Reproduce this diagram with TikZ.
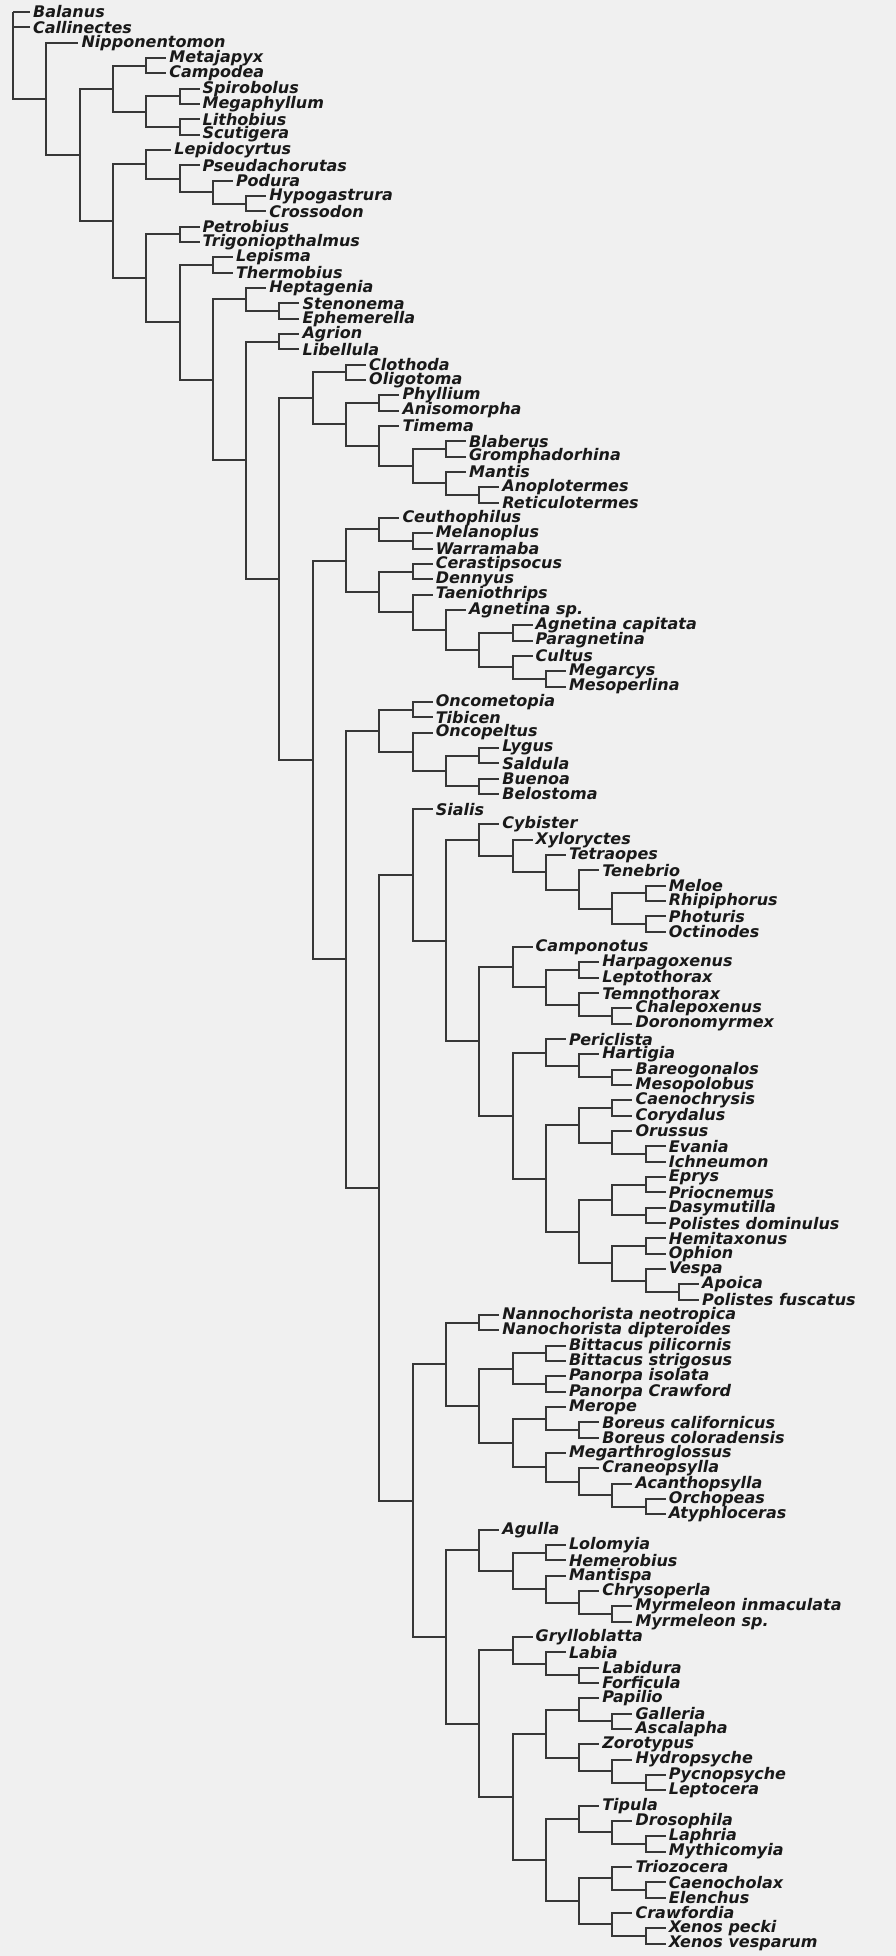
\documentclass[tikz,border=0pt]{standalone}
\usepackage{fontspec}
\newfontfamily\taxfont{DejaVu Sans}
\usetikzlibrary{calc}

\definecolor{pagebg}{RGB}{240,240,240}
\definecolor{ink}{RGB}{55,55,55}

\tikzset{
  taxon/.style={anchor=west, inner xsep=3pt, inner ysep=1pt,
    font=\taxfont\bfseries\itshape\fontsize{16}{16}\selectfont, text=black!90},
  branch/.style={draw=ink, line width=2pt},
}

% leaf: [stub] name, row, depth of parent, text
\newcommand\taxon[5][20]{%
  \node[taxon] (#2) at ({13+33.3*#4+#1},{12+(#3-1)*15.33}) {#5};}
% internal node: name, depth, first child, last child
\newcommand\clade[4]{%
  \coordinate (#1-mid) at ($(#3)!.5!(#4)$);
  \coordinate (#1-x) at ({13+33.3*#2},0);
  \coordinate (#1) at (#1-x |- #1-mid);
  \draw[branch] (#1) |- (#3) (#1) |- (#4);}

\begin{document}
\begin{tikzpicture}[x=1pt, y=-1pt]

\fill[pagebg] (0,0) rectangle (896,1956);
\useasboundingbox (0,0) rectangle (896,1956);

% Taxa
\taxon[17]{balanus}{1}{0}{Balanus}
\taxon[17]{callinectes}{2}{0}{Callinectes}
\taxon[32]{nipponentomon}{3}{1}{Nipponentomon}
\taxon{metajapyx}{4}{4}{Metajapyx}
\taxon{campodea}{5}{4}{Campodea}
\taxon{spirobolus}{6}{5}{Spirobolus}
\taxon{megaphyllum}{7}{5}{Megaphyllum}
\taxon{lithobius}{8}{5}{Lithobius}
\taxon{scutigera}{9}{5}{Scutigera}
\taxon[25]{lepidocyrtus}{10}{4}{Lepidocyrtus}
\taxon{pseudachorutas}{11}{5}{Pseudachorutas}
\taxon{podura}{12}{6}{Podura}
\taxon{hypogastrura}{13}{7}{Hypogastrura}
\taxon{crossodon}{14}{7}{Crossodon}
\taxon{petrobius}{15}{5}{Petrobius}
\taxon{trigoniopthalmus}{16}{5}{Trigoniopthalmus}
\taxon{lepisma}{17}{6}{Lepisma}
\taxon{thermobius}{18}{6}{Thermobius}
\taxon{heptagenia}{19}{7}{Heptagenia}
\taxon{stenonema}{20}{8}{Stenonema}
\taxon{ephemerella}{21}{8}{Ephemerella}
\taxon{agrion}{22}{8}{Agrion}
\taxon{libellula}{23}{8}{Libellula}
\taxon{clothoda}{24}{10}{Clothoda}
\taxon{oligotoma}{25}{10}{Oligotoma}
\taxon{phyllium}{26}{11}{Phyllium}
\taxon{anisomorpha}{27}{11}{Anisomorpha}
\taxon{timema}{28}{11}{Timema}
\taxon{blaberus}{29}{13}{Blaberus}
\taxon{gromphadorhina}{30}{13}{Gromphadorhina}
\taxon{mantis}{31}{13}{Mantis}
\taxon{anoplotermes}{32}{14}{Anoplotermes}
\taxon{reticulotermes}{33}{14}{Reticulotermes}
\taxon{ceuthophilus}{34}{11}{Ceuthophilus}
\taxon{melanoplus}{35}{12}{Melanoplus}
\taxon{warramaba}{36}{12}{Warramaba}
\taxon{cerastipsocus}{37}{12}{Cerastipsocus}
\taxon{dennyus}{38}{12}{Dennyus}
\taxon{taeniothrips}{39}{12}{Taeniothrips}
\taxon{agnetinasp}{40}{13}{Agnetina sp.}
\taxon{agnetinacap}{41}{15}{Agnetina capitata}
\taxon{paragnetina}{42}{15}{Paragnetina}
\taxon{cultus}{43}{15}{Cultus}
\taxon{megarcys}{44}{16}{Megarcys}
\taxon{mesoperlina}{45}{16}{Mesoperlina}
\taxon{oncometopia}{46}{12}{Oncometopia}
\taxon{tibicen}{47}{12}{Tibicen}
\taxon{oncopeltus}{48}{12}{Oncopeltus}
\taxon{lygus}{49}{14}{Lygus}
\taxon{saldula}{50}{14}{Saldula}
\taxon{buenoa}{51}{14}{Buenoa}
\taxon{belostoma}{52}{14}{Belostoma}
\taxon{sialis}{53}{12}{Sialis}
\taxon{cybister}{54}{14}{Cybister}
\taxon{xyloryctes}{55}{15}{Xyloryctes}
\taxon{tetraopes}{56}{16}{Tetraopes}
\taxon{tenebrio}{57}{17}{Tenebrio}
\taxon{meloe}{58}{19}{Meloe}
\taxon{rhipiphorus}{59}{19}{Rhipiphorus}
\taxon{photuris}{60}{19}{Photuris}
\taxon{octinodes}{61}{19}{Octinodes}
\taxon{camponotus}{62}{15}{Camponotus}
\taxon{harpagoxenus}{63}{17}{Harpagoxenus}
\taxon{leptothorax}{64}{17}{Leptothorax}
\taxon{temnothorax}{65}{17}{Temnothorax}
\taxon{chalepoxenus}{66}{18}{Chalepoxenus}
\taxon{doronomyrmex}{67}{18}{Doronomyrmex}
\taxon{periclista}{68}{16}{Periclista}
\taxon{hartigia}{69}{17}{Hartigia}
\taxon{bareogonalos}{70}{18}{Bareogonalos}
\taxon{mesopolobus}{71}{18}{Mesopolobus}
\taxon{caenochrysis}{72}{18}{Caenochrysis}
\taxon{corydalus}{73}{18}{Corydalus}
\taxon{orussus}{74}{18}{Orussus}
\taxon{evania}{75}{19}{Evania}
\taxon{ichneumon}{76}{19}{Ichneumon}
\taxon{eprys}{77}{19}{Eprys}
\taxon{priocnemus}{78}{19}{Priocnemus}
\taxon{dasymutilla}{79}{19}{Dasymutilla}
\taxon{polistesdom}{80}{19}{Polistes dominulus}
\taxon{hemitaxonus}{81}{19}{Hemitaxonus}
\taxon{ophion}{82}{19}{Ophion}
\taxon{vespa}{83}{19}{Vespa}
\taxon{apoica}{84}{20}{Apoica}
\taxon{polistesfus}{85}{20}{Polistes fuscatus}
\taxon{nannoneo}{86}{14}{Nannochorista neotropica}
\taxon{nannodip}{87}{14}{Nanochorista dipteroides}
\taxon{bittacuspil}{88}{16}{Bittacus pilicornis}
\taxon{bittacusstr}{89}{16}{Bittacus strigosus}
\taxon{panorpaiso}{90}{16}{Panorpa isolata}
\taxon{panorpacra}{91}{16}{Panorpa Crawford}
\taxon{merope}{92}{16}{Merope}
\taxon{boreuscal}{93}{17}{Boreus californicus}
\taxon{boreuscol}{94}{17}{Boreus coloradensis}
\taxon{megarthro}{95}{16}{Megarthroglossus}
\taxon{craneopsylla}{96}{17}{Craneopsylla}
\taxon{acanthopsylla}{97}{18}{Acanthopsylla}
\taxon{orchopeas}{98}{19}{Orchopeas}
\taxon{atyphloceras}{99}{19}{Atyphloceras}
\taxon{agulla}{100}{14}{Agulla}
\taxon{lolomyia}{101}{16}{Lolomyia}
\taxon{hemerobius}{102}{16}{Hemerobius}
\taxon{mantispa}{103}{16}{Mantispa}
\taxon{chrysoperla}{104}{17}{Chrysoperla}
\taxon{myrmeleonin}{105}{18}{Myrmeleon inmaculata}
\taxon{myrmeleonsp}{106}{18}{Myrmeleon sp.}
\taxon{grylloblatta}{107}{15}{Grylloblatta}
\taxon{labia}{108}{16}{Labia}
\taxon{labidura}{109}{17}{Labidura}
\taxon{forficula}{110}{17}{Forficula}
\taxon{papilio}{111}{17}{Papilio}
\taxon{galleria}{112}{18}{Galleria}
\taxon{ascalapha}{113}{18}{Ascalapha}
\taxon{zorotypus}{114}{17}{Zorotypus}
\taxon{hydropsyche}{115}{18}{Hydropsyche}
\taxon{pycnopsyche}{116}{19}{Pycnopsyche}
\taxon{leptocera}{117}{19}{Leptocera}
\taxon{tipula}{118}{17}{Tipula}
\taxon{drosophila}{119}{18}{Drosophila}
\taxon{laphria}{120}{19}{Laphria}
\taxon{mythicomyia}{121}{19}{Mythicomyia}
\taxon{triozocera}{122}{18}{Triozocera}
\taxon{caenocholax}{123}{19}{Caenocholax}
\taxon{elenchus}{124}{19}{Elenchus}
\taxon{crawfordia}{125}{18}{Crawfordia}
\taxon{xenospecki}{126}{19}{Xenos pecki}
\taxon{xenosvesp}{127}{19}{Xenos vesparum}

% Clades: outgroups and basal hexapods
\clade{diplura}{4}{metajapyx}{campodea}
\clade{diplopoda}{5}{spirobolus}{megaphyllum}
\clade{chilopoda}{5}{lithobius}{scutigera}
\clade{myriapoda}{4}{diplopoda}{chilopoda}
\clade{diplmyr}{3}{diplura}{myriapoda}
\clade{hypocros}{7}{hypogastrura}{crossodon}
\clade{podhyp}{6}{podura}{hypocros}
\clade{pseupod}{5}{pseudachorutas}{podhyp}
\clade{collembola}{4}{lepidocyrtus}{pseupod}
\clade{archaeo}{5}{petrobius}{trigoniopthalmus}
\clade{zygentoma}{6}{lepisma}{thermobius}
\clade{stenephe}{8}{stenonema}{ephemerella}
\clade{ephem}{7}{heptagenia}{stenephe}
\clade{odonata}{8}{agrion}{libellula}

% Polyneoptera
\clade{embioptera}{10}{clothoda}{oligotoma}
\clade{phasmida}{11}{phyllium}{anisomorpha}
\clade{blattaria}{13}{blaberus}{gromphadorhina}
\clade{isoptera}{14}{anoplotermes}{reticulotermes}
\clade{mantisiso}{13}{mantis}{isoptera}
\clade{dictyoptera}{12}{blattaria}{mantisiso}
\clade{timdict}{11}{timema}{dictyoptera}
\clade{phasdict}{10}{phasmida}{timdict}
\clade{embphas}{9}{embioptera}{phasdict}
\clade{orthmw}{12}{melanoplus}{warramaba}
\clade{orthoptera}{11}{ceuthophilus}{orthmw}
\clade{psocodea}{12}{cerastipsocus}{dennyus}
\clade{agpar}{15}{agnetinacap}{paragnetina}
\clade{megmes}{16}{megarcys}{mesoperlina}
\clade{culmeg}{15}{cultus}{megmes}
\clade{plecin}{14}{agpar}{culmeg}
\clade{plecoptera}{13}{agnetinasp}{plecin}
\clade{thysplec}{12}{taeniothrips}{plecoptera}
\clade{psothys}{11}{psocodea}{thysplec}
\clade{orthpso}{10}{orthoptera}{psothys}

% Hemiptera
\clade{aucheno}{12}{oncometopia}{tibicen}
\clade{lygsal}{14}{lygus}{saldula}
\clade{buebel}{14}{buenoa}{belostoma}
\clade{heterin}{13}{lygsal}{buebel}
\clade{heteroptera}{12}{oncopeltus}{heterin}
\clade{hemiptera}{11}{aucheno}{heteroptera}

% Coleoptera
\clade{melrhi}{19}{meloe}{rhipiphorus}
\clade{phoct}{19}{photuris}{octinodes}
\clade{colm}{18}{melrhi}{phoct}
\clade{colten}{17}{tenebrio}{colm}
\clade{coltet}{16}{tetraopes}{colten}
\clade{colxyl}{15}{xyloryctes}{coltet}
\clade{coleoptera}{14}{cybister}{colxyl}

% Hymenoptera
\clade{antsa}{17}{harpagoxenus}{leptothorax}
\clade{antsc}{18}{chalepoxenus}{doronomyrmex}
\clade{antsb}{17}{temnothorax}{antsc}
\clade{antsin}{16}{antsa}{antsb}
\clade{ants}{15}{camponotus}{antsin}
\clade{barmes}{18}{bareogonalos}{mesopolobus}
\clade{harbar}{17}{hartigia}{barmes}
\clade{sawfly}{16}{periclista}{harbar}
\clade{caecor}{18}{caenochrysis}{corydalus}
\clade{evaich}{19}{evania}{ichneumon}
\clade{orueva}{18}{orussus}{evaich}
\clade{parasit}{17}{caecor}{orueva}
\clade{epypri}{19}{eprys}{priocnemus}
\clade{daspol}{19}{dasymutilla}{polistesdom}
\clade{aculea}{18}{epypri}{daspol}
\clade{hemoph}{19}{hemitaxonus}{ophion}
\clade{apopol}{20}{apoica}{polistesfus}
\clade{vesapo}{19}{vespa}{apopol}
\clade{vespoid}{18}{hemoph}{vesapo}
\clade{vesall}{17}{aculea}{vespoid}
\clade{hymlow}{16}{parasit}{vesall}
\clade{hymrest}{15}{sawfly}{hymlow}
\clade{hymenoptera}{14}{ants}{hymrest}
\clade{colhym}{13}{coleoptera}{hymenoptera}
\clade{sialcol}{12}{sialis}{colhym}

% Mecopterida
\clade{nanno}{14}{nannoneo}{nannodip}
\clade{bittacus}{16}{bittacuspil}{bittacusstr}
\clade{panorpa}{16}{panorpaiso}{panorpacra}
\clade{bitpan}{15}{bittacus}{panorpa}
\clade{boreus}{17}{boreuscal}{boreuscol}
\clade{merbor}{16}{merope}{boreus}
\clade{orchaty}{19}{orchopeas}{atyphloceras}
\clade{acaorc}{18}{acanthopsylla}{orchaty}
\clade{craaca}{17}{craneopsylla}{acaorc}
\clade{siphon}{16}{megarthro}{craaca}
\clade{borsiph}{15}{merbor}{siphon}
\clade{mecin}{14}{bitpan}{borsiph}
\clade{mecoptera}{13}{nanno}{mecin}

% Neuropterida
\clade{lolhem}{16}{lolomyia}{hemerobius}
\clade{myrmeleon}{18}{myrmeleonin}{myrmeleonsp}
\clade{chrmyr}{17}{chrysoperla}{myrmeleon}
\clade{manchr}{16}{mantispa}{chrmyr}
\clade{neurin}{15}{lolhem}{manchr}
\clade{neuroptera}{14}{agulla}{neurin}

% Grylloblatta, Dermaptera, Amphiesmenoptera, Halteria
\clade{derm}{17}{labidura}{forficula}
\clade{labder}{16}{labia}{derm}
\clade{grylder}{15}{grylloblatta}{labder}
\clade{galasc}{18}{galleria}{ascalapha}
\clade{lepid}{17}{papilio}{galasc}
\clade{pyclep}{19}{pycnopsyche}{leptocera}
\clade{trich}{18}{hydropsyche}{pyclep}
\clade{zortri}{17}{zorotypus}{trich}
\clade{amphi}{16}{lepid}{zortri}
\clade{lapmyt}{19}{laphria}{mythicomyia}
\clade{dros}{18}{drosophila}{lapmyt}
\clade{diptera}{17}{tipula}{dros}
\clade{caeele}{19}{caenocholax}{elenchus}
\clade{triocae}{18}{triozocera}{caeele}
\clade{xenos}{19}{xenospecki}{xenosvesp}
\clade{crawxen}{18}{crawfordia}{xenos}
\clade{strep}{17}{triocae}{crawxen}
\clade{halteria}{16}{diptera}{strep}
\clade{amphal}{15}{amphi}{halteria}
\clade{gryamp}{14}{grylder}{amphal}
\clade{neugry}{13}{neuroptera}{gryamp}
\clade{mecneu}{12}{mecoptera}{neugry}

% Backbone
\clade{holo}{11}{sialcol}{mecneu}
\clade{hemholo}{10}{hemiptera}{holo}
\clade{neopt}{9}{orthpso}{hemholo}
\clade{neoptera}{8}{embphas}{neopt}
\clade{palaeo}{7}{odonata}{neoptera}
\clade{pterygota}{6}{ephem}{palaeo}
\clade{dicondylia}{5}{zygentoma}{pterygota}
\clade{insecta}{4}{archaeo}{dicondylia}
\clade{hexa}{3}{collembola}{insecta}
\clade{tracheata}{2}{diplmyr}{hexa}
\clade{ellipura}{1}{nipponentomon}{tracheata}

\coordinate (root) at (13,12);
\draw[branch] (root) |- (balanus) (root) |- (callinectes) (root) |- (ellipura);

\end{tikzpicture}
\end{document}
